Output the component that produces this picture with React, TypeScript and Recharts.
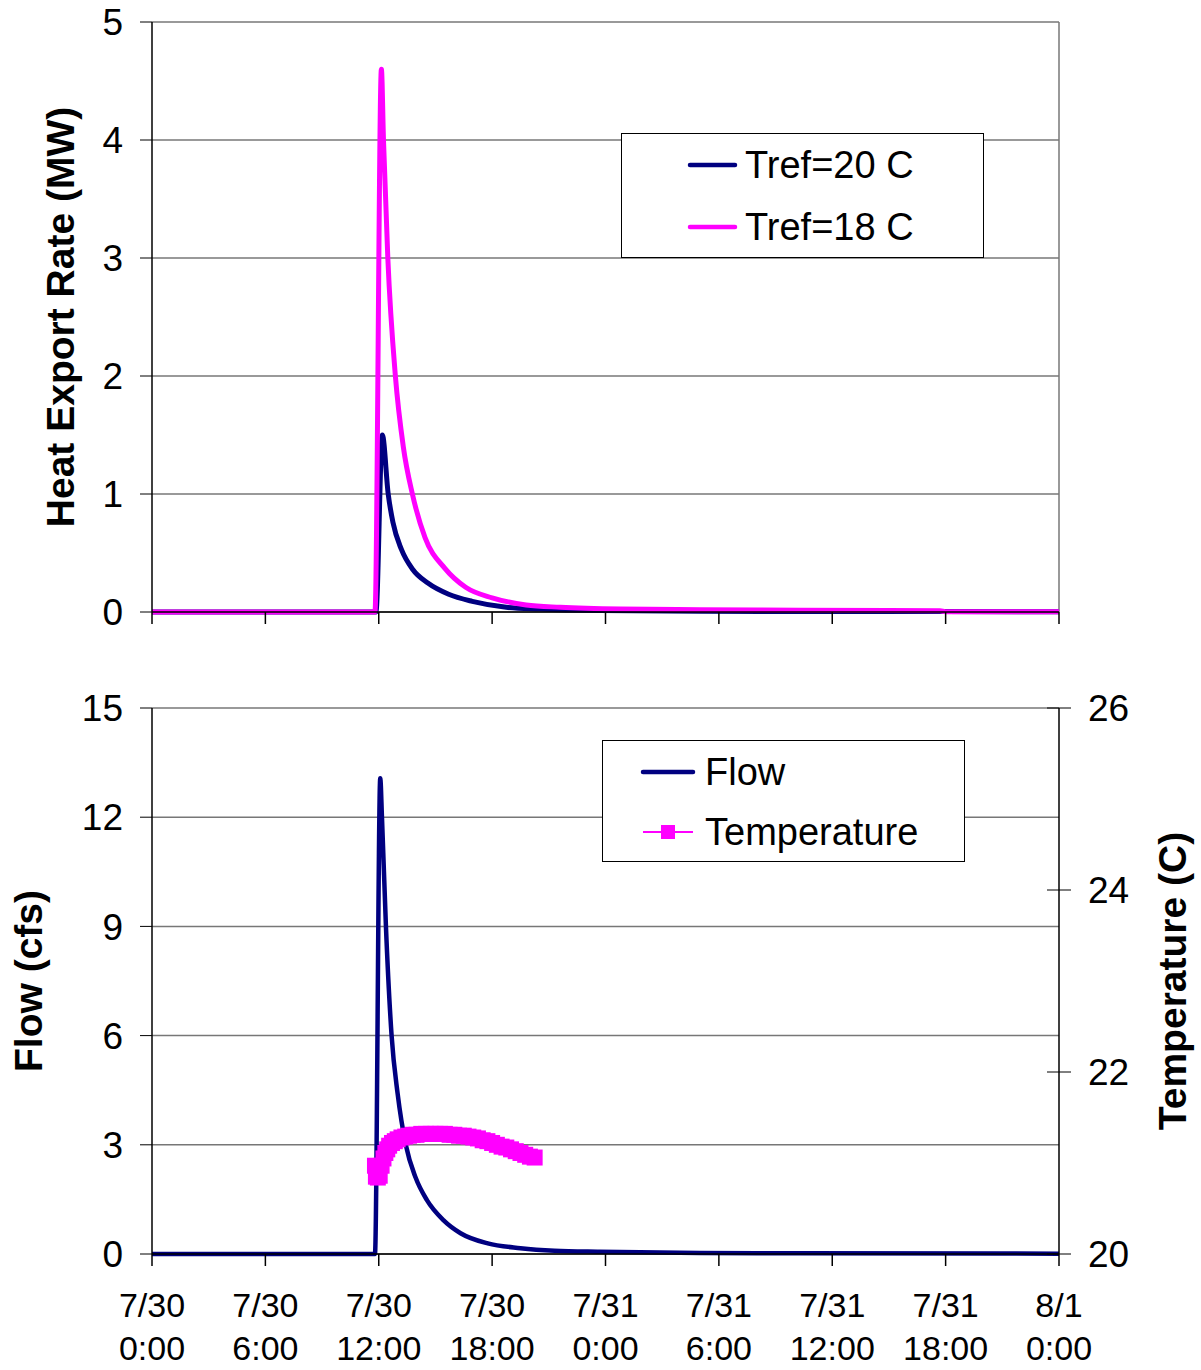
import React from 'react';
import { LineChart, Line, XAxis, YAxis, CartesianGrid, ReferenceLine } from 'recharts';

const FONT = '"Liberation Sans", Arial, Helvetica, sans-serif';

// X axis: hours since 7/30 0:00
const xTicks = [0, 6, 12, 18, 24, 30, 36, 42, 48];
const xTickDates = ['7/30', '7/30', '7/30', '7/30', '7/31', '7/31', '7/31', '7/31', '8/1'];
const xTickTimes = ['0:00', '6:00', '12:00', '18:00', '0:00', '6:00', '12:00', '18:00', '0:00'];

const heatTicks = [0, 1, 2, 3, 4, 5];
const flowTicks = [0, 3, 6, 9, 12, 15];
const tempTicks = [20, 22, 24, 26];

// Heat export rate, Tref = 20 C
const heat20Hours = [0, 11.85, 12.19, 12.5, 12.75, 13.2, 13.8, 14.6, 15.7, 16.95, 18.75, 20.5, 23.7, 29, 36, 48];
const heat20MW = [0, 0, 1.5, 1.0, 0.76, 0.53, 0.36, 0.245, 0.15, 0.09, 0.04, 0.025, 0.012, 0.006, 0.004, 0.003];

// Heat export rate, Tref = 18 C
const heat18Hours = [0, 11.8, 12.14, 12.25, 12.48, 12.88, 13.3, 13.78, 14.45, 15.5, 16.6, 18.0, 19.8, 21.6, 24.8, 29, 34.3, 41.7, 42, 48];
const heat18MW = [0, 0, 4.6, 4.0, 3.0, 2.0, 1.4, 1.0, 0.63, 0.37, 0.21, 0.12, 0.06, 0.04, 0.025, 0.02, 0.015, 0.01, 0.003, 0.003];

// Flow (cfs)
const flowHours = [0, 11.8, 12.08, 12.17, 12.38, 12.68, 13.0, 13.43, 13.95, 14.55, 15.42, 16.33, 17.77, 19.5, 21.3, 23.7, 29, 34.3, 48];
const flowCfs = [0, 0, 13.07, 12, 9, 6, 4.4, 3, 2.1, 1.48, 0.93, 0.57, 0.29, 0.16, 0.09, 0.06, 0.03, 0.02, 0.01];

// Temperature (C)
const tempHours = [11.8, 11.85, 11.95, 12.05, 12.15, 12.25, 12.35, 12.45, 12.55, 12.7, 12.85, 13.0, 13.2, 13.4, 13.6, 13.8, 14.0, 14.25, 14.5, 14.75, 15.0, 15.25, 15.5, 15.75, 16.0, 16.25, 16.5, 16.75, 17.0, 17.25, 17.5, 17.75, 18.0, 18.25, 18.5, 18.75, 19.0, 19.25, 19.5, 19.75, 20.0, 20.25];
const tempC = [20.97, 20.85, 20.84, 20.86, 20.97, 21.05, 21.11, 21.15, 21.19, 21.22, 21.24, 21.26, 21.28, 21.29, 21.3, 21.31, 21.31, 21.32, 21.32, 21.32, 21.32, 21.32, 21.32, 21.31, 21.31, 21.3, 21.3, 21.29, 21.28, 21.27, 21.25, 21.24, 21.22, 21.2, 21.18, 21.17, 21.15, 21.13, 21.11, 21.09, 21.07, 21.06];

const heat20 = heat20Hours.map((h, i) => ({ h, v: heat20MW[i] }));
const heat18 = heat18Hours.map((h, i) => ({ h, v: heat18MW[i] }));
const flow = flowHours.map((h, i) => ({ h, v: flowCfs[i] }));
const temp = tempHours.map((h, i) => ({ h, v: tempC[i] }));

const NAVY = '#000080';
const MAGENTA = '#FF00FF';
const GRID = '#777777';

const emptyTick = () => <g />;

const XTwoLineTick = (props: any) => {
  const { x, y, payload } = props;
  const idx = xTicks.indexOf(payload.value);
  return (
    <g>
      <text x={x} y={y + 39} textAnchor="middle" dominantBaseline="central" fontSize={34} fontFamily={FONT} fill="#000">
        {xTickDates[idx]}
      </text>
      <text x={x} y={y + 82} textAnchor="middle" dominantBaseline="central" fontSize={34} fontFamily={FONT} fill="#000">
        {xTickTimes[idx]}
      </text>
    </g>
  );
};

const RightTick = (props: any) => {
  const { x, y, payload } = props;
  const axisX = x - 12 - 17;
  return (
    <g>
      <line x1={axisX - 12} x2={axisX} y1={y} y2={y} stroke="#000" strokeWidth={1} />
      <text x={x} y={y} textAnchor="start" dominantBaseline="central" fontSize={37} fontFamily={FONT} fill="#000">
        {payload.value}
      </text>
    </g>
  );
};

const makeTitle = (text: string, cxFromLeft: number) => (props: any) => {
  const vb = props.viewBox || {};
  const cx = (vb.x || 0) + cxFromLeft;
  const cy = (vb.y || 0) + (vb.height || 0) / 2;
  return (
    <text
      x={cx}
      y={cy}
      transform={`rotate(-90, ${cx}, ${cy})`}
      textAnchor="middle"
      dominantBaseline="central"
      fontSize={39}
      fontWeight="bold"
      fontFamily={FONT}
      fill="#000"
    >
      {text}
    </text>
  );
};

const tickStyle = { fontSize: 37, fill: '#000', fontFamily: FONT };

const LegendBox = ({ left, top, width, height, children }: any) => (
  <svg
    style={{ position: 'absolute', left, top, overflow: 'visible' }}
    width={width}
    height={height}
  >
    <rect x={0.5} y={0.5} width={width - 1} height={height - 1} fill="#fff" stroke="#000" strokeWidth={1} />
    {children}
  </svg>
);

export default function App() {
  return (
    <div style={{ position: 'absolute', left: 0, top: 0, width: 1201, height: 1370, background: '#fff', fontFamily: FONT }}>
      <div style={{ position: 'absolute', left: 0, top: 0 }}>
        <LineChart width={1201} height={650} margin={{ top: 22, right: 142, left: 0, bottom: 0 }}>
          <CartesianGrid vertical={false} stroke={GRID} strokeWidth={1.5} />
          <XAxis
            type="number"
            dataKey="h"
            domain={[0, 48]}
            ticks={xTicks}
            height={38}
            tickSize={12}
            tick={emptyTick}
            axisLine={{ stroke: '#000', strokeWidth: 1.5 }}
            tickLine={{ stroke: '#000', strokeWidth: 1.5 }}
            allowDataOverflow
          />
          <YAxis
            type="number"
            domain={[0, 5]}
            ticks={heatTicks}
            width={152}
            tickSize={12}
            tickMargin={17}
            tick={tickStyle}
            axisLine={{ stroke: '#000', strokeWidth: 1.5 }}
            tickLine={{ stroke: '#000', strokeWidth: 1 }}
            label={makeTitle('Heat Export Rate (MW)', 60)}
          />
          <ReferenceLine x={48} stroke={GRID} strokeWidth={1.5} />
          <Line data={heat20} dataKey="v" stroke={NAVY} strokeWidth={5} dot={false} isAnimationActive={false} type="monotone" />
          <Line data={heat18} dataKey="v" stroke={MAGENTA} strokeWidth={5} dot={false} isAnimationActive={false} type="monotone" />
        </LineChart>
      </div>

      <div style={{ position: 'absolute', left: 0, top: 650 }}>
        <LineChart width={1201} height={720} margin={{ top: 58, right: 0, left: 0, bottom: 0 }}>
          <CartesianGrid vertical={false} stroke={GRID} strokeWidth={1.5} yAxisId="left" />
          <XAxis
            type="number"
            dataKey="h"
            domain={[0, 48]}
            ticks={xTicks}
            height={116}
            tickSize={12}
            tickMargin={0}
            tick={XTwoLineTick}
            axisLine={{ stroke: '#000', strokeWidth: 1.5 }}
            tickLine={{ stroke: '#000', strokeWidth: 1.5 }}
            allowDataOverflow
          />
          <YAxis
            yAxisId="left"
            type="number"
            domain={[0, 15]}
            ticks={flowTicks}
            width={152}
            tickSize={12}
            tickMargin={17}
            tick={tickStyle}
            axisLine={{ stroke: '#000', strokeWidth: 1.5 }}
            tickLine={{ stroke: '#000', strokeWidth: 1 }}
            label={makeTitle('Flow (cfs)', 28)}
          />
          <YAxis
            yAxisId="right"
            orientation="right"
            type="number"
            domain={[20, 26]}
            ticks={tempTicks}
            width={142}
            tickSize={12}
            tickMargin={17}
            tick={RightTick}
            axisLine={{ stroke: '#000', strokeWidth: 1.5 }}
            tickLine={{ stroke: '#000', strokeWidth: 1 }}
            label={makeTitle('Temperature (C)', 113)}
          />
          <Line
            yAxisId="right"
            data={temp}
            dataKey="v"
            stroke={MAGENTA}
            strokeWidth={3}
            isAnimationActive={false}
            type="linear"
            dot={(p: any) => (
              <rect key={`t${p.index}`} x={p.cx - 8} y={p.cy - 8} width={16} height={16} fill={MAGENTA} stroke="none" />
            )}
          />
          <Line yAxisId="left" data={flow} dataKey="v" stroke={NAVY} strokeWidth={4.5} dot={false} isAnimationActive={false} type="monotone" />
        </LineChart>
      </div>

      <LegendBox left={621} top={133} width={363} height={125}>
        <line x1={69} x2={114} y1={32} y2={32} stroke={NAVY} strokeWidth={4.5} strokeLinecap="round" />
        <text x={124} y={32} dominantBaseline="central" fontSize={38} fontFamily={FONT} fill="#000">Tref=20 C</text>
        <line x1={69} x2={114} y1={94} y2={94} stroke={MAGENTA} strokeWidth={4.5} strokeLinecap="round" />
        <text x={124} y={94} dominantBaseline="central" fontSize={38} fontFamily={FONT} fill="#000">Tref=18 C</text>
      </LegendBox>

      <LegendBox left={602} top={740} width={363} height={122}>
        <line x1={41} x2={91} y1={32} y2={32} stroke={NAVY} strokeWidth={4.5} strokeLinecap="round" />
        <text x={103} y={32} dominantBaseline="central" fontSize={38} fontFamily={FONT} fill="#000">Flow</text>
        <line x1={41} x2={91} y1={92} y2={92} stroke={MAGENTA} strokeWidth={2} />
        <rect x={59} y={85} width={14} height={14} fill={MAGENTA} />
        <text x={103} y={92} dominantBaseline="central" fontSize={38} fontFamily={FONT} fill="#000">Temperature</text>
      </LegendBox>
    </div>
  );
}
